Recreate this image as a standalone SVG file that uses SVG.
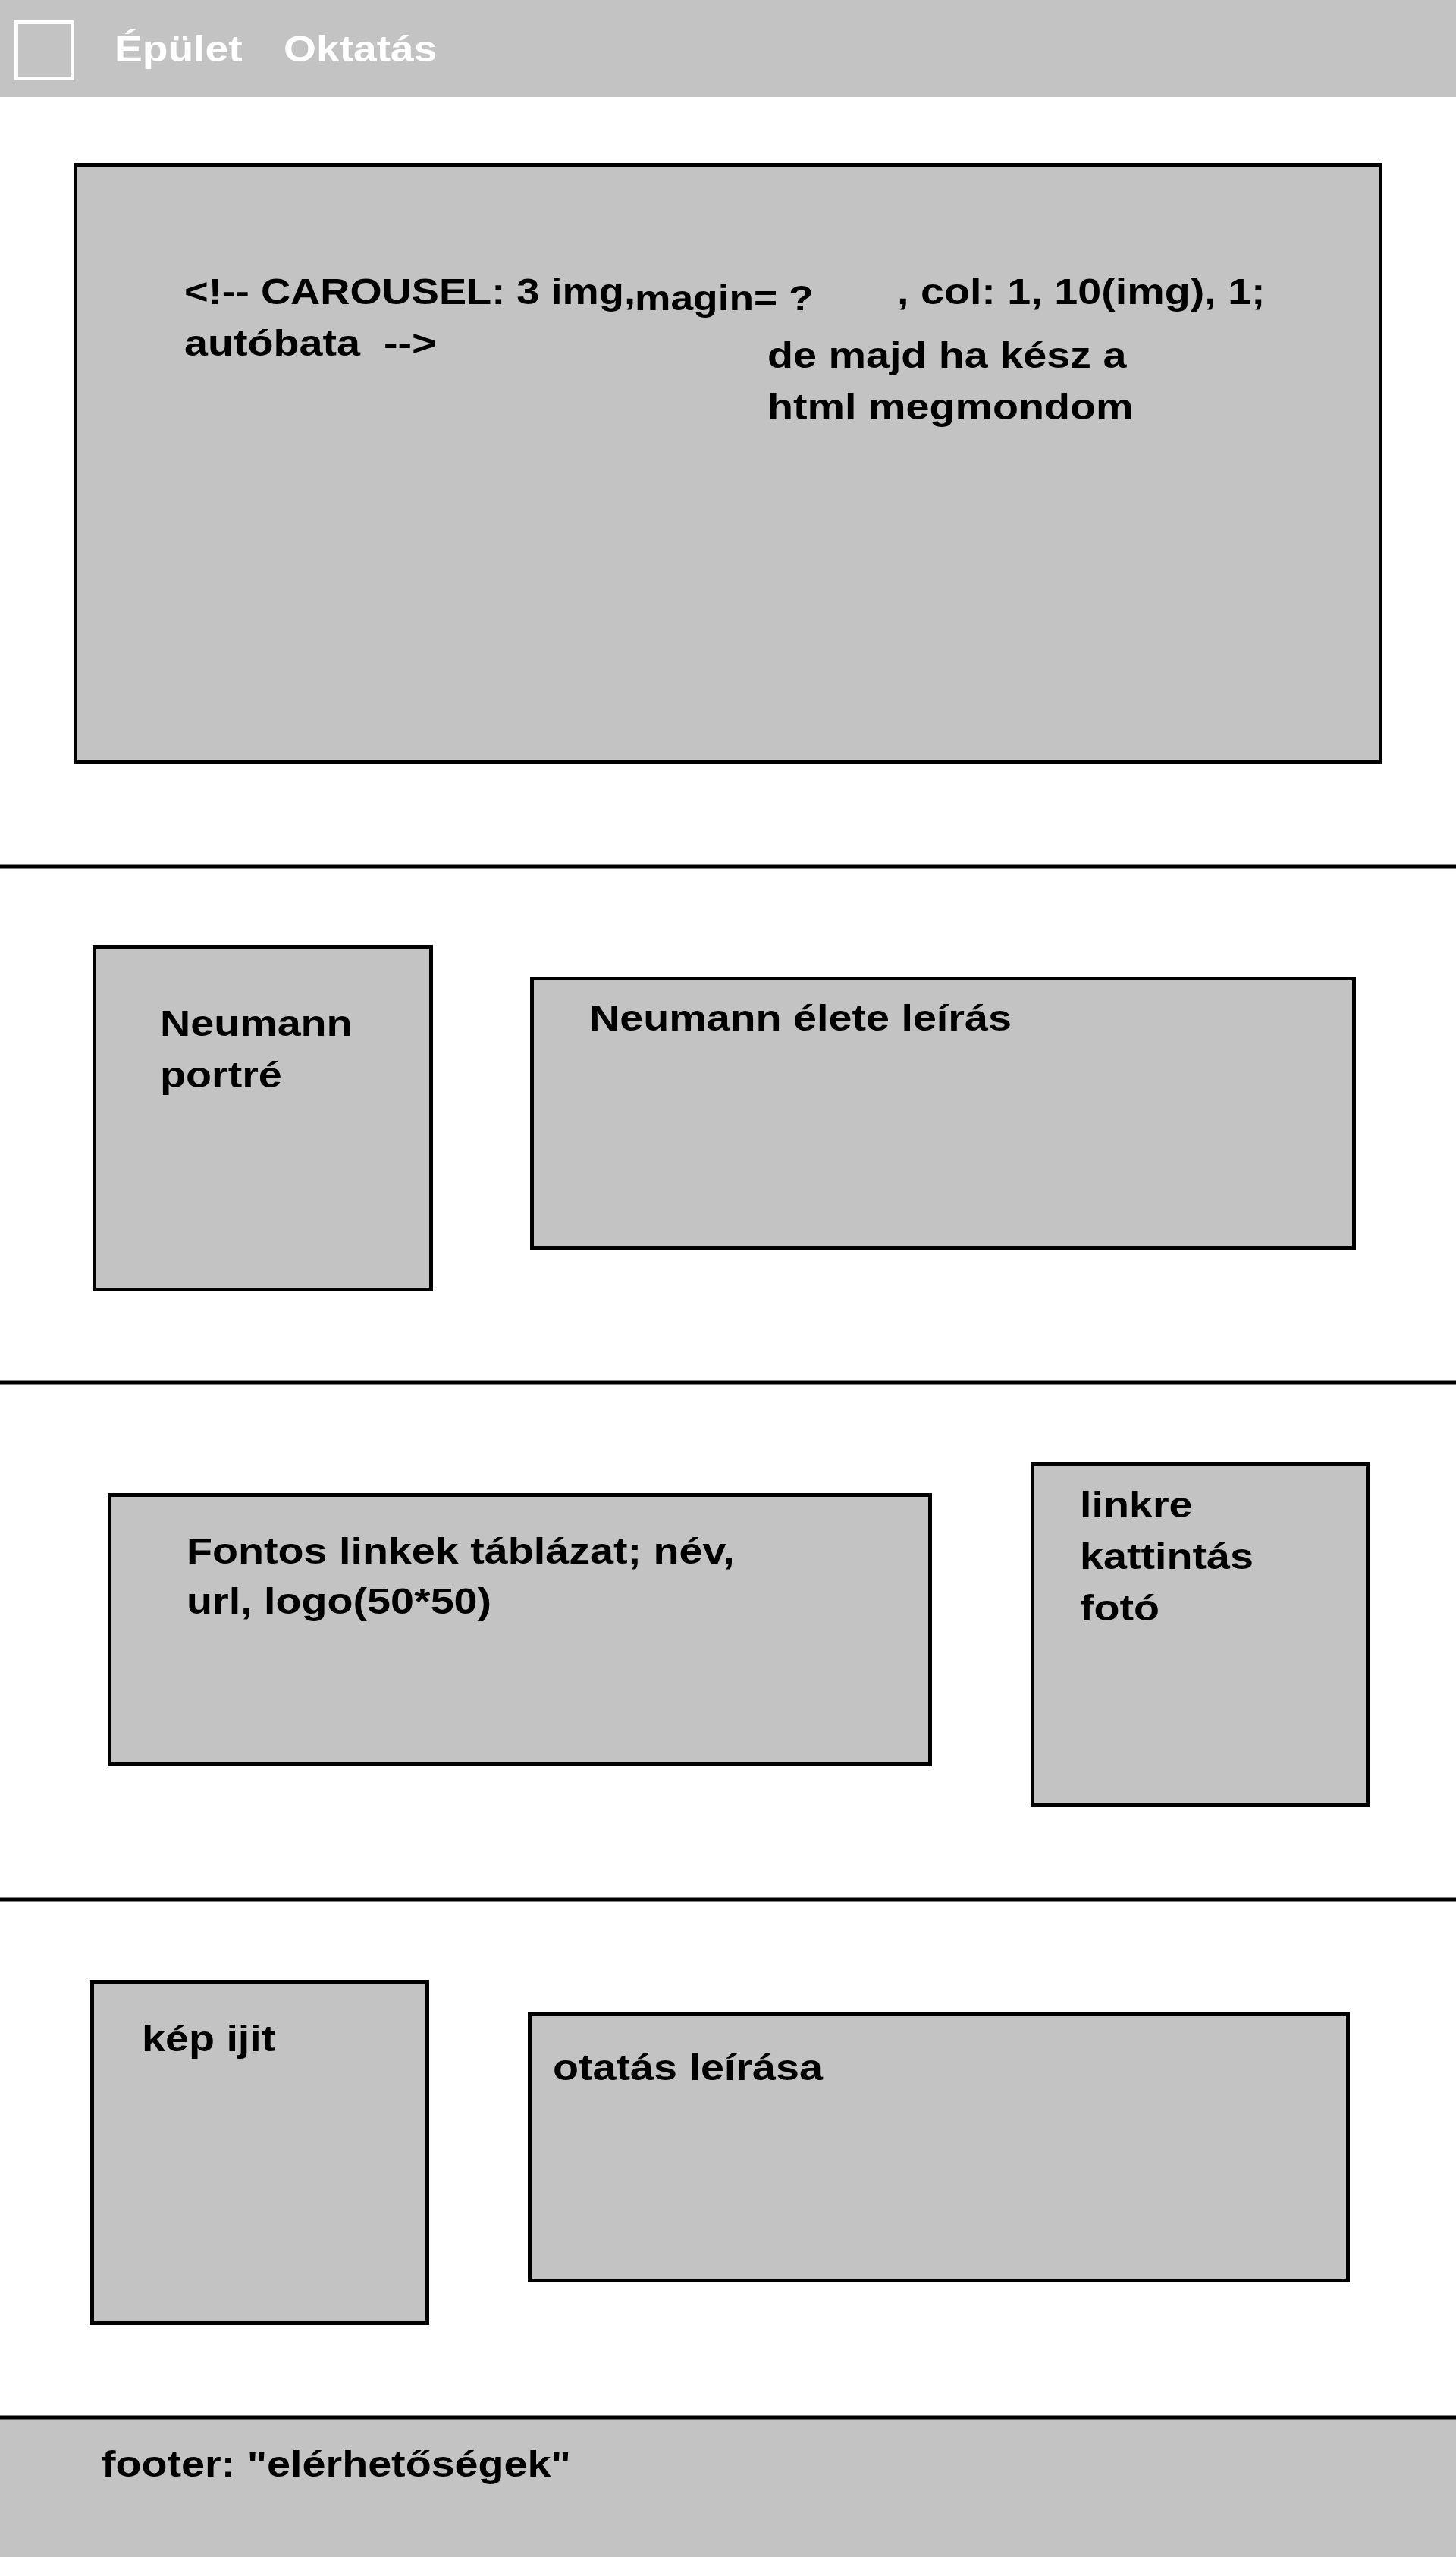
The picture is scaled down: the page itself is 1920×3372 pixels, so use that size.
<svg xmlns="http://www.w3.org/2000/svg" width="1920" height="3372" viewBox="0 0 1920 3372">
  <style>
    .panel { fill: #c3c3c3; }
    .box { fill: #c3c3c3; stroke: #000; stroke-width: 5; }
    .rule { stroke: #000; stroke-width: 5; }
    .lbl { font-family: "Liberation Sans", Arial, sans-serif; font-weight: bold; font-size: 48px; fill: #000; white-space: pre; }
    .nav { fill: #fff; }
  </style>

  <rect width="1920" height="3372" fill="#fff"/>

  <!-- top navigation bar -->
  <g id="navbar">
    <rect class="panel" x="0" y="0" width="1920" height="128"/>
    <rect x="21.5" y="29.5" width="74" height="74" fill="none" stroke="#fff" stroke-width="5"/>
    <text class="lbl nav" transform="translate(151,81) scale(1.15,1)">Épület</text>
    <text class="lbl nav" transform="translate(374,81) scale(1.15,1)">Oktatás</text>
  </g>

  <!-- section separators -->
  <g id="separators">
    <line class="rule" x1="0" y1="1143" x2="1920" y2="1143"/>
    <line class="rule" x1="0" y1="1823" x2="1920" y2="1823"/>
    <line class="rule" x1="0" y1="2505" x2="1920" y2="2505"/>
  </g>

  <!-- carousel -->
  <g id="carousel">
    <rect class="box" x="99.5" y="217.5" width="1721" height="787"/>
    <text class="lbl" transform="translate(243,401) scale(1.13,1)">&lt;!-- CAROUSEL: 3 img,</text>
    <text class="lbl" style="font-size:46px" transform="translate(837,409) scale(1.16,1)">magin= ?</text>
    <text class="lbl" transform="translate(1183,401) scale(1.16,1)">, col: 1, 10(img), 1;</text>
    <text class="lbl" transform="translate(243,469) scale(1.16,1)">autóbata  --&gt;</text>
    <text class="lbl" transform="translate(1012,485) scale(1.16,1)">de majd ha kész a</text>
    <text class="lbl" transform="translate(1012,553) scale(1.16,1)">html megmondom</text>
  </g>

  <!-- Neumann section -->
  <g id="portrait">
    <rect class="box" x="124.5" y="1248.5" width="444" height="452"/>
    <text class="lbl" transform="translate(211,1366) scale(1.16,1)">Neumann</text>
    <text class="lbl" transform="translate(211,1434) scale(1.16,1)">portré</text>
  </g>
  <g id="biography">
    <rect class="box" x="701.5" y="1290.5" width="1084" height="355"/>
    <text class="lbl" transform="translate(777,1359) scale(1.16,1)">Neumann élete leírás</text>
  </g>

  <!-- links section -->
  <g id="links-table">
    <rect class="box" x="144.5" y="1971.5" width="1082" height="355"/>
    <text class="lbl" transform="translate(246,2062) scale(1.16,1)">Fontos linkek táblázat; név,</text>
    <text class="lbl" transform="translate(246,2128) scale(1.16,1)">url, logo(50*50)</text>
  </g>
  <g id="link-photo">
    <rect class="box" x="1361.5" y="1930.5" width="442" height="450"/>
    <text class="lbl" transform="translate(1424,2001) scale(1.16,1)">linkre</text>
    <text class="lbl" transform="translate(1424,2069) scale(1.16,1)">kattintás</text>
    <text class="lbl" transform="translate(1424,2137) scale(1.16,1)">fotó</text>
  </g>

  <!-- education section -->
  <g id="education-image">
    <rect class="box" x="121.5" y="2613.5" width="442" height="450"/>
    <text class="lbl" transform="translate(187,2705) scale(1.16,1)">kép ijit</text>
  </g>
  <g id="education-text">
    <rect class="box" x="698.5" y="2655.5" width="1079" height="352"/>
    <text class="lbl" transform="translate(729,2743) scale(1.16,1)">otatás leírása</text>
  </g>

  <!-- footer -->
  <g id="footer">
    <rect class="panel" x="0" y="3188" width="1920" height="184"/>
    <line class="rule" x1="0" y1="3188" x2="1920" y2="3188"/>
    <text class="lbl" transform="translate(134,3266) scale(1.16,1)">footer: "elérhetőségek"</text>
  </g>
</svg>
